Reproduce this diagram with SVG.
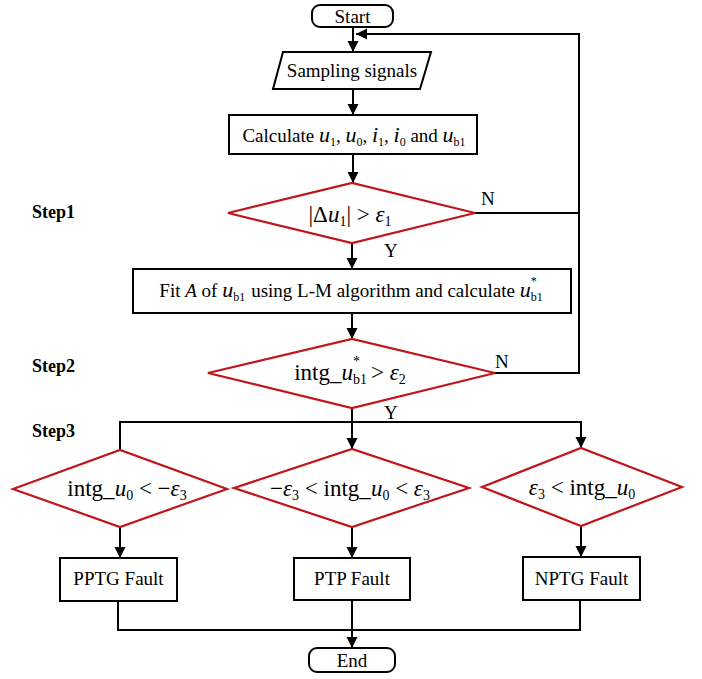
<svg xmlns="http://www.w3.org/2000/svg" width="702" height="679" viewBox="0 0 702 679">
<defs>
<style>
.t{font-family:"Liberation Serif","Times New Roman",serif;font-size:19px;fill:#000}
.m{font-family:"Liberation Serif","Times New Roman",serif;font-size:23px;fill:#000}
.s{font-family:"Liberation Serif","Times New Roman",serif;font-size:18px;font-weight:bold;fill:#000}
.i{font-style:italic}
.sub{font-size:12px}
.sb{font-size:14px}
.box{fill:#fff;stroke:#000;stroke-width:2}
.dia{fill:#fff;stroke:#c0161b;stroke-width:2.2}
.c{fill:none;stroke:#000;stroke-width:2}
</style>
<marker id="ah" viewBox="0 0 10 10" refX="10" refY="5" markerWidth="5.5" markerHeight="6" orient="auto" markerUnits="strokeWidth">
<path d="M0,0 L10,5 L0,10 z" fill="#000"/>
</marker>
</defs>
<rect width="702" height="679" fill="#fff"/>
<g id="connectors">
<path class="c" d="M353,27 V52" marker-end="url(#ah)"/>
<path class="c" d="M579,213 V34 H356" marker-end="url(#ah)"/>
<path class="c" d="M353,89 V115" marker-end="url(#ah)"/>
<path class="c" d="M353,154 V183" marker-end="url(#ah)"/>
<path class="c" d="M475,213 H579"/>
<path class="c" d="M352,243 V269" marker-end="url(#ah)"/>
<path class="c" d="M352,313 V339" marker-end="url(#ah)"/>
<path class="c" d="M495,373 H579 V213"/>
<path class="c" d="M352,408 V449" marker-end="url(#ah)"/>
<path class="c" d="M120,450 V422 H581 V448" marker-end="url(#ah)"/>
<path class="c" d="M120,527 V558" marker-end="url(#ah)"/>
<path class="c" d="M352,527 V558" marker-end="url(#ah)"/>
<path class="c" d="M581,526 V557" marker-end="url(#ah)"/>
<path class="c" d="M118,600 V630 H580 V600"/>
<path class="c" d="M352,600 V648" marker-end="url(#ah)"/>
</g>
<g id="labels">
<text class="s" x="32" y="218">Step1</text>
<text class="s" x="32" y="372">Step2</text>
<text class="s" x="32" y="437">Step3</text>
<text class="t" x="481" y="205">N</text>
<text class="t" x="384" y="257">Y</text>
<text class="t" x="495" y="368">N</text>
<text class="t" x="384" y="419">Y</text>
</g>
<g id="start">
<rect class="box" x="312" y="5" width="81" height="22" rx="8"/>
<text class="t" x="352.5" y="22.5" text-anchor="middle">Start</text>
</g>
<g id="sampling">
<polygon class="box" points="273,89 283,52 431,52 420,89"/>
<text class="t" x="352" y="77" text-anchor="middle">Sampling signals</text>
</g>
<g id="calculate">
<rect class="box" x="229" y="115" width="248" height="39"/>
<text class="t" x="354" y="142" text-anchor="middle">Calculate <tspan class="i" font-size="22">u</tspan><tspan class="sub" dy="4">1</tspan><tspan dy="-4">, </tspan><tspan class="i" font-size="22">u</tspan><tspan class="sub" dy="4">0</tspan><tspan dy="-4">, </tspan><tspan class="i" font-size="22">i</tspan><tspan class="sub" dy="4">1</tspan><tspan dy="-4">, </tspan><tspan class="i" font-size="22">i</tspan><tspan class="sub" dy="4">0</tspan><tspan dy="-4"> and </tspan><tspan class="i" font-size="22">u</tspan><tspan class="sub" dy="4">b1</tspan></text>
</g>
<g id="step1">
<polygon class="dia" points="228,213 352,183 475,213 352,243"/>
<text class="m" x="350" y="222" text-anchor="middle" font-size="22">|Δ<tspan class="i">u</tspan><tspan class="sb" dy="4">1</tspan><tspan dy="-4">| &gt; </tspan><tspan class="i">ε</tspan><tspan class="sb" dy="4">1</tspan></text>
</g>
<g id="fit">
<rect class="box" x="133" y="269" width="438" height="44"/>
<text class="t" x="351" y="297" text-anchor="middle" font-size="19.5">Fit <tspan class="i">A</tspan> of <tspan class="i" font-size="22">u</tspan><tspan class="sub" dy="4">b1</tspan><tspan dy="-4" dx="6">using L-M algorithm and calculate </tspan><tspan class="i" font-size="22">u</tspan><tspan class="sub" dy="4">b1</tspan><tspan class="sub" dx="-12" dy="-16">*</tspan></text>
</g>
<g id="step2">
<polygon class="dia" points="208,373 352,339 495,373 352,408"/>
<text class="m" x="350" y="380" text-anchor="middle">intg_<tspan class="i">u</tspan><tspan class="sb" dy="4">b1</tspan><tspan class="sb" dx="-14" dy="-18">*</tspan><tspan dy="14" dx="11">&gt; </tspan><tspan class="i">ε</tspan><tspan class="sb" dy="4">2</tspan></text>
</g>
<g id="cond-pptg">
<polygon class="dia" points="13,489 120,450 227,489 120,527"/>
<text class="m" x="127" y="496" text-anchor="middle">intg_<tspan class="i">u</tspan><tspan class="sb" dy="4">0</tspan><tspan dy="-4"> &lt; −</tspan><tspan class="i">ε</tspan><tspan class="sb" dy="4">3</tspan></text>
</g>
<g id="cond-ptp">
<polygon class="dia" points="234,488 352,449 469,488 352,527"/>
<text class="m" x="350" y="496" text-anchor="middle">−<tspan class="i">ε</tspan><tspan class="sb" dy="4">3</tspan><tspan dy="-4"> &lt; intg_</tspan><tspan class="i">u</tspan><tspan class="sb" dy="4">0</tspan><tspan dy="-4"> &lt; </tspan><tspan class="i">ε</tspan><tspan class="sb" dy="4">3</tspan></text>
</g>
<g id="cond-nptg">
<polygon class="dia" points="482,487 581,448 682,487 581,526"/>
<text class="m" x="582" y="495" text-anchor="middle"><tspan class="i">ε</tspan><tspan class="sb" dy="4">3</tspan><tspan dy="-4"> &lt; intg_</tspan><tspan class="i">u</tspan><tspan class="sb" dy="4">0</tspan></text>
</g>
<g id="pptg">
<rect class="box" x="60" y="558" width="117" height="43"/>
<text class="t" x="118.5" y="585" text-anchor="middle">PPTG Fault</text>
</g>
<g id="ptp">
<rect class="box" x="294" y="558" width="116" height="42"/>
<text class="t" x="352" y="585" text-anchor="middle">PTP Fault</text>
</g>
<g id="nptg">
<rect class="box" x="523" y="557" width="117" height="43"/>
<text class="t" x="581.5" y="585" text-anchor="middle">NPTG Fault</text>
</g>
<g id="end">
<rect class="box" x="309" y="648" width="86" height="24" rx="8"/>
<text class="t" x="352" y="666.5" text-anchor="middle">End</text>
</g>
</svg>
